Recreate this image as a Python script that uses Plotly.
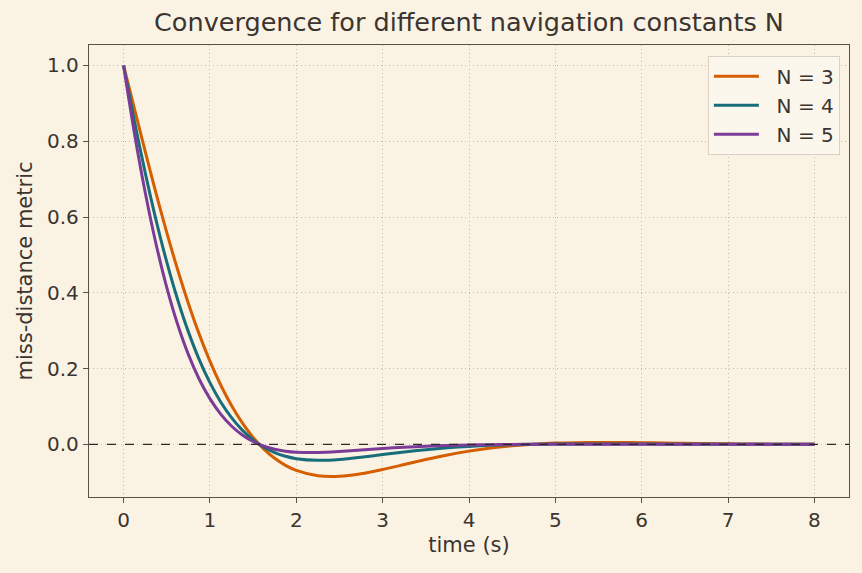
import plotly.graph_objects as go

t = [0, 0.125, 0.25, 0.375, 0.5, 0.625, 0.75, 0.875, 1.0, 1.125, 1.25, 1.375, 1.5, 1.625, 1.75,
     1.875, 2.0, 2.25, 2.5, 2.75, 3.0, 3.25, 3.5, 3.75,
     4.0, 4.25, 4.5, 4.75, 5.0, 5.25, 5.5, 5.75, 6.0, 6.25, 6.5, 6.75, 7.0, 7.25, 7.5, 7.75, 8.0]

n3 = [1.0, 0.8866, 0.7737, 0.6640, 0.5596, 0.4621, 0.3725, 0.2916, 0.2197, 0.1567, 0.1024,
      0.0564, 0.0183, -0.0125, -0.0369, -0.0554, -0.0688, -0.0829, -0.0844,
      -0.0778, -0.0665, -0.0534, -0.0401, -0.0281, -0.0179, -0.0097, -0.0037, 0.0005, 0.0032,
      0.0045, 0.0050, 0.0049, 0.0043, 0.0036, 0.0028, 0.0021, 0.0014, 0.0008, 0.0004, 0.0001, -0.0001]
n4 = [1.0, 0.8540, 0.7178, 0.5933, 0.4816, 0.3831, 0.2975, 0.2243, 0.1627, 0.1118, 0.0704,
      0.0374, 0.0117, -0.0077, -0.0218, -0.0316, -0.0378, -0.0422, -0.0399,
      -0.0341, -0.0270, -0.0201, -0.0140, -0.0091, -0.0054, -0.0027, -0.0010, 0.0001, 0.0007,
      0.0009, 0.0010, 0.0009, 0.0007, 0.0005, 0.0004, 0.0003, 0.0002, 0.0001, 0.0, 0.0, 0.0]
n5 = [1.0, 0.8226, 0.6659, 0.5302, 0.4145, 0.3176, 0.2375, 0.1725, 0.1206, 0.0798, 0.0484,
      0.0247, 0.0075, -0.0047, -0.0129, -0.0180, -0.0207, -0.0215, -0.0188,
      -0.0149, -0.0110, -0.0076, -0.0049, -0.0030, -0.0016, -0.0008, -0.0002, 0.0, 0.0002,
      0.0002, 0.0002, 0.0001, 0.0001, 0.0, 0.0, 0.0, 0.0, 0.0, 0.0, 0.0, 0.0]

series = [("N = 3", n3, "#d55e00"), ("N = 4", n4, "#176d7a"), ("N = 5", n5, "#7b3c98")]

x_ticks = [0, 1, 2, 3, 4, 5, 6, 7, 8]
y_ticks = [0.0, 0.2, 0.4, 0.6, 0.8, 1.0]

BG = "#faf3e3"
TXT = "#3b3430"
SPINE = "#5b5148"
GRID = "#c4bcad"
FONT = "DejaVu Sans"

fig = go.Figure()
for name, ys, col in series:
    fig.add_trace(go.Scatter(x=t, y=ys, mode="lines", name="\u00a0\u00a0" + name,
                             line=dict(color=col, width=3, shape="spline", smoothing=0.8)))

fig.add_shape(type="line", xref="paper", yref="y", x0=0, x1=1, y0=0, y1=0,
              line=dict(color="#2e2926", width=1.4, dash="dash"), layer="above")

fig.update_layout(
    width=862, height=573,
    paper_bgcolor=BG, plot_bgcolor=BG,
    margin=dict(l=89, r=13, t=45, b=76),
    font=dict(family=FONT, color=TXT, size=20),
    title=dict(text="Convergence for different navigation constants N", x=0.5, xref="paper",
               xanchor="center", y=0.961, yanchor="middle",
               font=dict(size=25.5, color=TXT, family=FONT)),
    showlegend=True,
    legend=dict(x=0.988, xanchor="right", y=0.976, yanchor="top",
                bgcolor="rgba(252,247,236,0.9)", bordercolor="#d8d1c4", borderwidth=1,
                font=dict(size=20, color=TXT, family=FONT), tracegroupgap=0, itemwidth=45),
)
fig.update_xaxes(range=[-0.4, 8.4], tickvals=x_ticks, ticktext=[str(v) for v in x_ticks],
                 tickfont=dict(size=20, color=TXT),
                 title=dict(text="time (s)", font=dict(size=21, color=TXT), standoff=6),
                 showline=True, linecolor=SPINE, linewidth=1.3, mirror=True,
                 ticks="outside", ticklen=5, tickcolor=SPINE, tickwidth=1.2,
                 showgrid=True, gridcolor=GRID, griddash="1px,3px", gridwidth=1, zeroline=False)
fig.update_yaxes(range=[-0.139, 1.054], tickvals=y_ticks, ticktext=["%.1f" % v for v in y_ticks],
                 tickfont=dict(size=20, color=TXT),
                 title=dict(text="miss-distance metric", font=dict(size=21, color=TXT), standoff=8),
                 showline=True, linecolor=SPINE, linewidth=1.3, mirror=True,
                 ticks="outside", ticklen=5, tickcolor=SPINE, tickwidth=1.2,
                 showgrid=True, gridcolor=GRID, griddash="1px,3px", gridwidth=1, zeroline=False)

fig.write_html("out.html")
